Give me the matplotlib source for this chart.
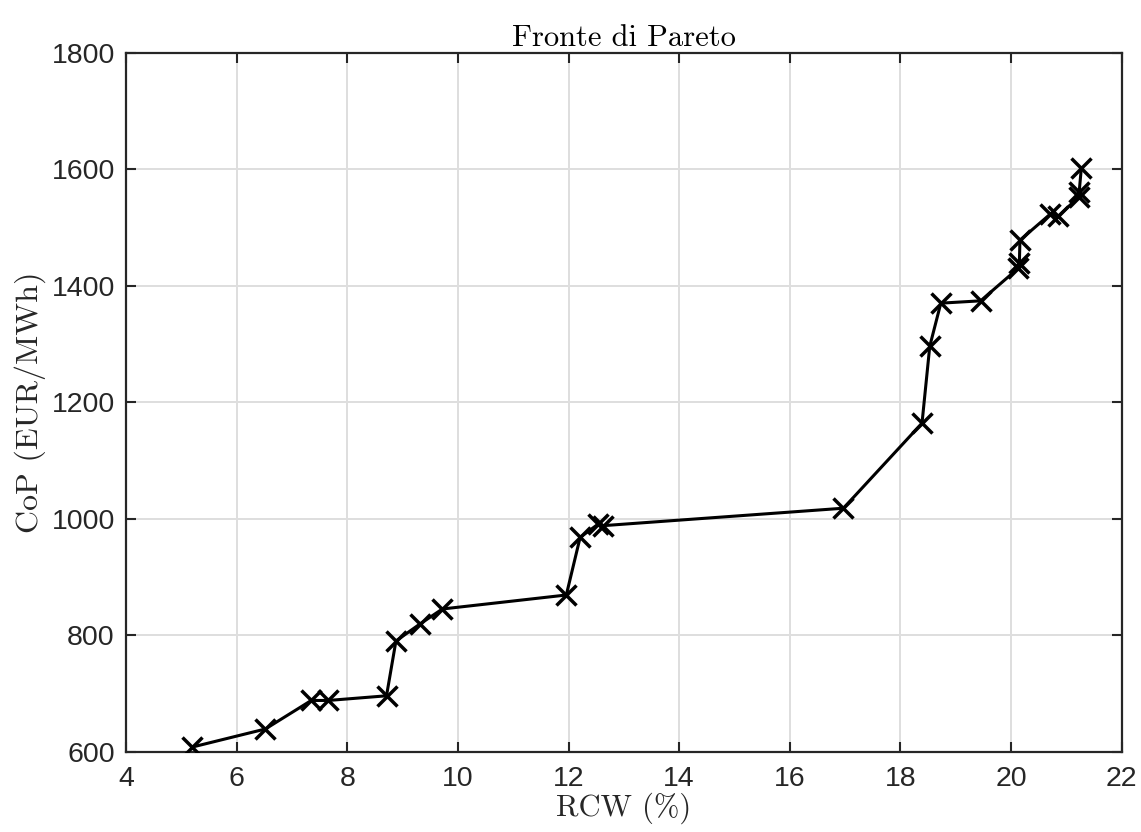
import matplotlib
matplotlib.use("Agg")
import matplotlib.pyplot as plt

rcw = [5.20, 6.52, 7.35, 7.66, 8.71, 8.88, 9.31, 9.72, 11.96, 12.21, 12.54, 12.62,
       16.97, 18.39, 18.53, 18.73, 19.45, 20.13, 20.15, 20.16, 20.71, 20.85,
       21.22, 21.23, 21.27]
cop = [608, 639, 688, 688, 696, 790, 819, 845, 869, 968, 991, 988,
       1018, 1164, 1296, 1370, 1374, 1430, 1439, 1478, 1523, 1519,
       1552, 1560, 1602]

xticks = [4, 6, 8, 10, 12, 14, 16, 18, 20, 22]
yticks = [600, 800, 1000, 1200, 1400, 1600, 1800]

title = "Fronte di Pareto"
xlabel = "RCW (%)"
ylabel = "CoP (EUR/MWh)"

tick_color = "#262626"

fig = plt.figure(figsize=(11.41, 8.32), dpi=100)
ax = fig.add_axes([0.1104, 0.0965, 0.8727, 0.8402])

ax.plot(rcw, cop, color="black", linewidth=2.2, marker="x", markersize=14,
        markeredgewidth=2.5, zorder=3)

ax.set_xlim(4, 22)
ax.set_ylim(600, 1800)
ax.set_xticks(xticks)
ax.set_yticks(yticks)
ax.set_xticklabels([str(t) for t in xticks], family=["Liberation Sans", "DejaVu Sans"])
ax.set_yticklabels([str(t) for t in yticks], family=["Liberation Sans", "DejaVu Sans"])
ax.tick_params(axis="both", which="both", direction="in", length=7, width=1.5,
               labelsize=20.5, colors=tick_color, top=True, right=True)
ax.tick_params(axis="x", pad=10)
ax.tick_params(axis="y", pad=8)
for s in ax.spines.values():
    s.set_linewidth(1.6)
    s.set_color(tick_color)

ax.grid(True, color="#dedede", linewidth=1.4)
ax.set_axisbelow(True)

serif = ["cmr10", "DejaVu Serif"]
ax.set_title(title, family=serif, fontsize=22, color="black", pad=5)
ax.set_xlabel(xlabel, family=serif, fontsize=22, color="#262626", labelpad=1)
ax.set_ylabel(ylabel, family=serif, fontsize=23, color="#262626", labelpad=4)

fig.savefig("out.png", dpi=100)
